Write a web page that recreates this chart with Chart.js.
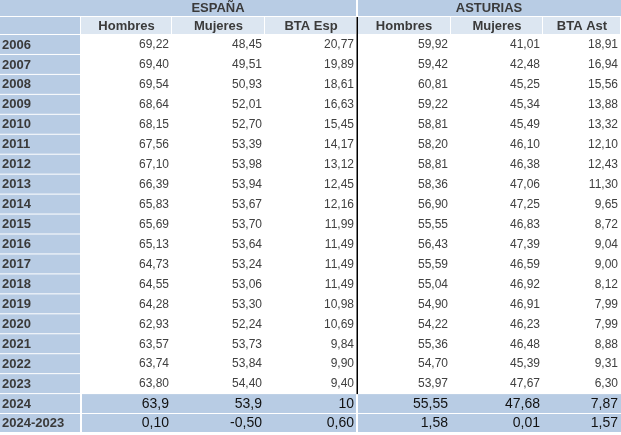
<!DOCTYPE html>
<html><head><meta charset="utf-8">
<script src="https://cdn.jsdelivr.net/npm/chart.js@4/dist/chart.umd.min.js"></script>
<style>html,body{margin:0;padding:0;background:#fff}#wrap{width:621px;height:435px}</style>
</head><body><div id="wrap"><canvas id="tabla"></canvas></div>
<script>
var years = ["2006","2007","2008","2009","2010","2011","2012","2013","2014","2015","2016","2017","2018","2019","2020","2021","2022","2023"];
var groups = ["ESPAÑA", "ASTURIAS"];
var columns = ["Hombres","Mujeres","BTA Esp","Hombres","Mujeres","BTA Ast"];
var espHombres = ["69,22","69,40","69,54","68,64","68,15","67,56","67,10","66,39","65,83","65,69","65,13","64,73","64,55","64,28","62,93","63,57","63,74","63,80"];
var espMujeres = ["48,45","49,51","50,93","52,01","52,70","53,39","53,98","53,94","53,67","53,70","53,64","53,24","53,06","53,30","52,24","53,73","53,84","54,40"];
var espBta = ["20,77","19,89","18,61","16,63","15,45","14,17","13,12","12,45","12,16","11,99","11,49","11,49","11,49","10,98","10,69","9,84","9,90","9,40"];
var astHombres = ["59,92","59,42","60,81","59,22","58,81","58,20","58,81","58,36","56,90","55,55","56,43","55,59","55,04","54,90","54,22","55,36","54,70","53,97"];
var astMujeres = ["41,01","42,48","45,25","45,34","45,49","46,10","46,38","47,06","47,25","46,83","47,39","46,59","46,92","46,91","46,23","46,48","45,39","47,67"];
var astBta = ["18,91","16,94","15,56","13,88","13,32","12,10","12,43","11,30","9,65","8,72","9,04","9,00","8,12","7,99","7,99","8,88","9,31","6,30"];
var row2024 = ["63,9","53,9","10","55,55","47,68","7,87"];
var rowDiff = ["0,10","-0,50","0,60","1,58","0,01","1,57"];

// layout (pixel edges on the linear scales)
var colEdges = [0, 81, 172, 265, 357, 451, 543, 621];
var rowTop = [0, 17, 35];
for (var i = 1; i <= years.length; i++) rowTop.push(35 + i * 19.95);
rowTop.push(414, 433);

var tablePlugin = {
  id: "tabla",
  afterDraw: function (chart) {
    var c = chart.ctx, xs = chart.scales.x, ys = chart.scales.y;
    function X(v) { return xs.getPixelForValue(v); }
    function Y(v) { return ys.getPixelForValue(v); }
    function rect(x0, x1, y0, y1, col) { c.fillStyle = col; c.fillRect(X(x0), Y(y0), X(x1) - X(x0), Y(y1) - Y(y0)); }
    var dark = "#b8cce4", light = "#dce6f1";
    var body = [espHombres, espMujeres, espBta, astHombres, astMujeres, astBta];
    var n = years.length;
    // header row 1
    rect(0, 356, rowTop[0], rowTop[1] - 1, dark);
    rect(358, 621, rowTop[0], rowTop[1] - 1, dark);
    // header row 2
    rect(0, 80, rowTop[1], rowTop[2] - 1, dark);
    for (var j = 0; j < 6; j++) rect(colEdges[j + 1], colEdges[j + 2] - 1, rowTop[1], rowTop[2] - 1, light);
    // label col
    for (var r = 0; r < n + 2; r++) rect(0, 80, rowTop[r + 2], rowTop[r + 3] - 1, dark);
    // summary rows
    rect(82, 356, rowTop[n + 2], rowTop[n + 4] - 1, dark);
    rect(358, 621, rowTop[n + 2], rowTop[n + 4] - 1, dark);
    c.fillStyle = "#fff";
    c.fillRect(X(82), Y(rowTop[n + 3]) - 1, X(621) - X(82), 1);
    // divider
    c.fillStyle = "#000";
    c.fillRect(X(356.5), Y(17), 1.5, Y(rowTop[n + 2]) - Y(17));

    c.textBaseline = "middle";
    c.fillStyle = "#3a3a3a";
    c.font = "bold 13px 'Liberation Sans', Arial";
    c.textAlign = "center";
    c.fillText(groups[0], X(218), Y(8.5));
    c.fillText(groups[1], X(489), Y(8.5));
    columns.forEach(function (t, j) { c.fillText(t, X((colEdges[j + 1] + colEdges[j + 2]) / 2), Y(26)); });
    c.textAlign = "left";
    c.font = "bold 13px 'Liberation Sans', Arial";
    var labels = years.concat(["2024", "2024-2023"]);
    labels.forEach(function (t, r) { c.fillText(t, X(2), Y((rowTop[r + 2] + rowTop[r + 3]) / 2)); });
    c.textAlign = "right";
    c.font = "12px 'Liberation Sans', Arial";
    c.fillStyle = "#404040";
    for (var r2 = 0; r2 < n; r2++) {
      var ym = Y((rowTop[r2 + 2] + rowTop[r2 + 3]) / 2);
      for (var k = 0; k < 6; k++) c.fillText(body[k][r2], X(colEdges[k + 2] - 3), ym);
    }
    c.font = "14px 'Liberation Sans', Arial";
    c.fillStyle = "#111";
    [row2024, rowDiff].forEach(function (row, q) {
      var ym = Y((rowTop[n + 2 + q] + rowTop[n + 3 + q]) / 2);
      for (var k = 0; k < 6; k++) c.fillText(row[k], X(colEdges[k + 2] - 3), ym);
    });
  }
};

new Chart(document.getElementById("tabla").getContext("2d"), {
  type: "scatter",
  data: { datasets: [{ data: [] }] },
  options: {
    responsive: true,
    maintainAspectRatio: false,
    animation: false,
    layout: { padding: 0 },
    plugins: { legend: { display: false }, tooltip: { enabled: false } },
    scales: {
      x: { type: "linear", min: 0, max: 621, display: false },
      y: { type: "linear", min: 0, max: 435, reverse: true, display: false }
    }
  },
  plugins: [tablePlugin]
});
</script></body></html>
